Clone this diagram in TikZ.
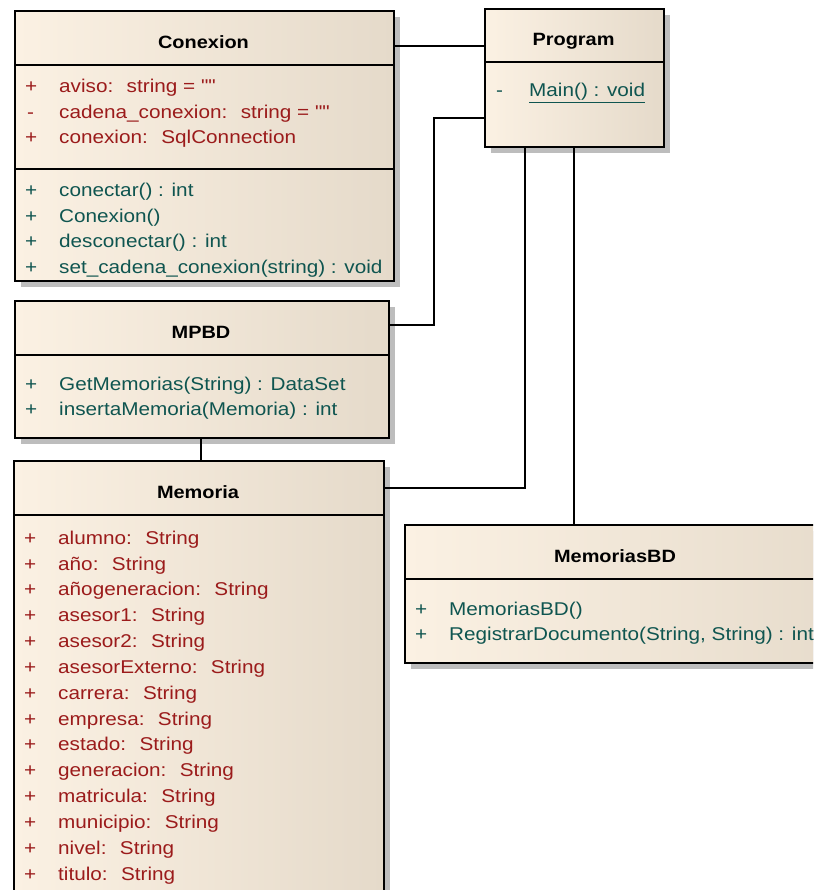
\documentclass[tikz,border=0pt]{standalone}
\usepackage{fontspec}
\setmainfont{Liberation Sans}[FakeStretch=1.12]
\newfontfamily\qfont{Liberation Sans}[FakeStretch=1.12, Ligatures=ResetAll]
\usetikzlibrary{shadows}
\definecolor{attrc}{HTML}{9B1B1B}
\definecolor{methc}{HTML}{0F5550}
\definecolor{fillL}{HTML}{FBF1E3}
\definecolor{fillR}{HTML}{E5DACA}
\definecolor{shadc}{HTML}{BDBDBD}
\newcommand{\dq}{{\qfont\symbol{34}\symbol{34}}}
\begin{document}
\begin{tikzpicture}[x=1pt,y=-1pt,
  classbox/.style={draw=black, line width=1.8pt, rectangle, inner sep=0pt, anchor=north west,
    left color=fillL, right color=fillR,
    drop shadow={shadow xshift=6pt, shadow yshift=-6pt, fill=shadc, opacity=1}},
  divider/.style={draw=black, line width=1.8pt},
  conn/.style={draw=black, line width=1.5pt},
  txt/.style={inner sep=0pt, anchor=base west, font=\fontsize{18.5}{21}\selectfont},
  attr/.style={txt, text=attrc},
  meth/.style={txt, text=methc},
  ttl/.style={inner sep=0pt, anchor=base, font=\fontsize{17.8}{21}\selectfont\bfseries, text=black}]
\useasboundingbox (0,0) rectangle (813,890);
\fill[white] (0,0) rectangle (813,890);
\clip (0,0) rectangle (813,890);

% ---------- Conexion ----------
\node[classbox, minimum width=379pt, minimum height=270pt] (conexion) at (14,10) {};
\draw[divider] (conexion.west |- 0,65) -- (conexion.east |- 0,65);
\draw[divider] (conexion.west |- 0,169) -- (conexion.east |- 0,169);
\node[ttl] (conexionT) at (203.5,48.3) {Conexion};
\node[attr] (ca1p) at (25,92.5) {+};
\node[attr] (ca1) at (59,92.5) {aviso:~ string = \dq};
\node[attr] (ca2p) at (27,118.2) {-};
\node[attr] (ca2) at (59,118.2) {cadena\_conexion:~ string = \dq};
\node[attr] (ca3p) at (25,144) {+};
\node[attr] (ca3) at (59,144) {conexion:~ SqlConnection};
\node[meth] (cm1p) at (25,196.7) {+};
\node[meth] (cm1) at (59,196.7) {conectar() : int};
\node[meth] (cm2p) at (25,222.2) {+};
\node[meth] (cm2) at (59,222.2) {Conexion()};
\node[meth] (cm3p) at (25,247.6) {+};
\node[meth] (cm3) at (59,247.6) {desconectar() : int};
\node[meth] (cm4p) at (25,273.1) {+};
\node[meth] (cm4) at (59,273.1) {set\_cadena\_conexion(string) : void};

% ---------- Program ----------
\node[classbox, minimum width=179pt, minimum height=138pt] (program) at (484,8) {};
\draw[divider] (program.west |- 0,62) -- (program.east |- 0,62);
\node[ttl] (programT) at (573.5,45.7) {Program};
\node[meth] (pm1p) at (496,96.7) {-};
\node[meth] (pm1) at (529,96.7) {\underline{Main() : void}};

% ---------- MPBD ----------
\node[classbox, minimum width=374pt, minimum height=137pt] (mpbd) at (14,300) {};
\draw[divider] (mpbd.west |- 0,355) -- (mpbd.east |- 0,355);
\node[ttl] (mpbdT) at (201,338.3) {MPBD};
\node[meth] (mm1p) at (25,390) {+};
\node[meth] (mm1) at (59,390) {GetMemorias(String) : DataSet};
\node[meth] (mm2p) at (25,415.7) {+};
\node[meth] (mm2) at (59,415.7) {insertaMemoria(Memoria) : int};

% ---------- Memoria ----------
\node[classbox, minimum width=370pt, minimum height=480pt] (memoria) at (13,460) {};
\draw[divider] (memoria.west |- 0,515) -- (memoria.east |- 0,515);
\node[ttl] (memoriaT) at (198,498.3) {Memoria};
\foreach \t [count=\i from 0] in {alumno, año, añogeneracion, asesor1, asesor2, asesorExterno, carrera, empresa, estado, generacion, matricula, municipio, nivel, titulo}{
  \node[attr] (mp\i) at (24,544.2+25.83*\i) {+};
  \node[attr] (ma\i) at (58,544.2+25.83*\i) {\t:~ String};
}

% ---------- MemoriasBD ----------
\node[classbox, minimum width=470pt, minimum height=138pt] (memoriasbd) at (404,524) {};
\draw[divider] (memoriasbd.west |- 0,579) -- (memoriasbd.east |- 0,579);
\node[ttl] (memoriasbdT) at (615,562.3) {MemoriasBD};
\node[meth] (bm1p) at (415,615) {+};
\node[meth] (bm1) at (449,615) {MemoriasBD()};
\node[meth] (bm2p) at (415,640.5) {+};
\node[meth] (bm2) at (449,640.5) {RegistrarDocumento(String, String) : int};

% ---------- connectors ----------
\coordinate (bendA) at (434,118);
\coordinate (bendB) at (525,488);
\draw[conn] (conexion.east |- 0,46) -- (program.west |- 0,46);
\draw[conn] (mpbd.east |- 0,325) -| (bendA) -- (program.west |- bendA);
\draw[conn] (memoria.east |- bendB) -- (bendB) -- (program.south -| bendB);
\draw[conn] (program.south -| 574,0) -- (memoriasbd.north -| 574,0);
\draw[conn] (mpbd.south -| 201,0) -- (memoria.north -| 201,0);
\end{tikzpicture}
\end{document}
